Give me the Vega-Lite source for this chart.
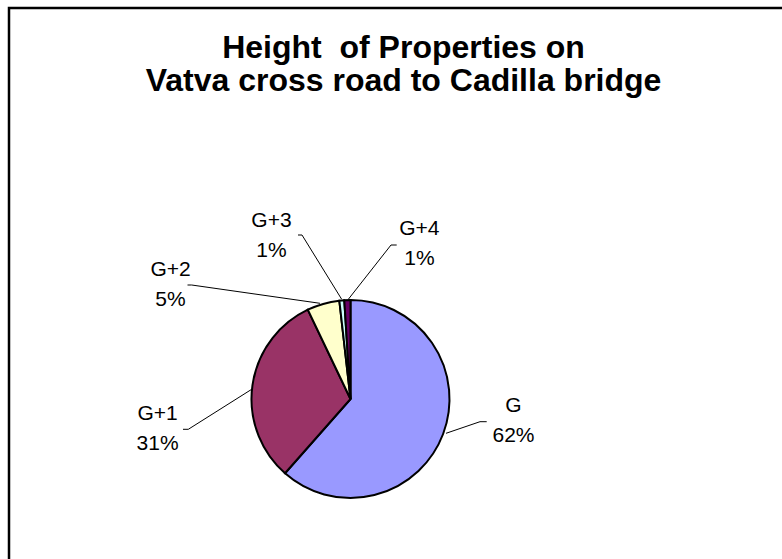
{
  "$schema": "https://vega.github.io/schema/vega-lite/v6.json",
  "autosize": "none",
  "width": 800,
  "height": 570,
  "padding": {"left": 9, "top": 8, "right": -27, "bottom": -19},
  "background": "white",
  "config": {
    "font": "Liberation Sans",
    "view": {"stroke": null}
  },
  "title": {
    "text": ["Height \u00a0of Properties on", "Vatva cross road to Cadilla bridge"],
    "font": "Liberation Sans",
    "fontSize": 32,
    "fontWeight": "bold",
    "color": "black",
    "anchor": "middle",
    "frame": "group",
    "baseline": "top",
    "offset": 0,
    "dx": -5.5,
    "dy": 92,
    "lineHeight": 33
  },
  "data": {
    "values": [
      {"cat": "G", "rank": 1, "value": 61.5, "label": "G\n62%"},
      {"cat": "G+1", "rank": 2, "value": 31.4, "label": "G+1\n31%"},
      {"cat": "G+2", "rank": 3, "value": 5.3, "label": "G+2\n5%"},
      {"cat": "G+3", "rank": 4, "value": 0.8, "label": "G+3\n1%"},
      {"cat": "G+4", "rank": 5, "value": 1.0, "label": "G+4\n1%"}
    ]
  },
  "layer": [
    {
      "data": {"values": [{"frame": 1}]},
      "mark": {"type": "rect", "fill": null, "fillOpacity": 0, "stroke": "black", "strokeWidth": 2.5, "strokeDash": [772, 1325, 2000], "strokeCap": "square"},
      "encoding": {}
    },
    {
      "data": {"values": [{"leaders": 1}]},
      "mark": {
        "type": "point",
        "shape": "M136.2,22.7L129.5,22.7L95.5,34.3M-167.5,30.3L-162.2,30.3L-98.8,-9.7M-163,-114L-158.8,-114L-30.5,-95.7M-52.5,-164L-48.5,-164L-8.8,-99.7M46.2,-154L40.5,-154L-2.2,-99.7",
        "size": 4,
        "filled": false,
        "fill": null,
        "stroke": "black",
        "strokeWidth": 1,
        "opacity": 1,
        "xOffset": -58.5,
        "yOffset": 106
      },
      "encoding": {}
    },
    {
      "mark": {"type": "arc", "outerRadius": 99, "stroke": "black", "strokeWidth": 2, "xOffset": -58.5, "yOffset": 106},
      "encoding": {
        "theta": {"field": "value", "type": "quantitative", "stack": true},
        "order": {"field": "rank", "type": "quantitative"},
        "color": {
          "field": "cat",
          "type": "nominal",
          "scale": {"domain": ["G", "G+1", "G+2", "G+3", "G+4"], "range": ["#9999FF", "#993366", "#FFFFCC", "#CCFFFF", "#660066"]},
          "legend": null
        }
      }
    },
    {
      "mark": {"type": "text", "radius": 160, "xOffset": -58.5, "yOffset": 106, "dx": 13.3, "dy": -49.6, "fontSize": 21, "font": "Liberation Sans", "lineBreak": "\n", "align": "center", "baseline": "middle", "lineHeight": 30, "color": "black"},
      "encoding": {
        "theta": {"field": "value", "type": "quantitative", "stack": true},
        "order": {"field": "rank", "type": "quantitative"},
        "detail": {"field": "cat", "type": "nominal"},
        "text": {"condition": {"test": "datum.cat === 'G'", "field": "label"}, "value": ""}
      }
    },
    {
      "mark": {"type": "text", "radius": 160, "xOffset": -58.5, "yOffset": 106, "dx": -34.4, "dy": 36.9, "fontSize": 21, "font": "Liberation Sans", "lineBreak": "\n", "align": "center", "baseline": "middle", "lineHeight": 30, "color": "black"},
      "encoding": {
        "theta": {"field": "value", "type": "quantitative", "stack": true},
        "order": {"field": "rank", "type": "quantitative"},
        "detail": {"field": "cat", "type": "nominal"},
        "text": {"condition": {"test": "datum.cat === 'G+1'", "field": "label"}, "value": ""}
      }
    },
    {
      "mark": {"type": "text", "radius": 160, "xOffset": -58.5, "yOffset": 106, "dx": -135.8, "dy": 24.8, "fontSize": 21, "font": "Liberation Sans", "lineBreak": "\n", "align": "center", "baseline": "middle", "lineHeight": 30, "color": "black"},
      "encoding": {
        "theta": {"field": "value", "type": "quantitative", "stack": true},
        "order": {"field": "rank", "type": "quantitative"},
        "detail": {"field": "cat", "type": "nominal"},
        "text": {"condition": {"test": "datum.cat === 'G+2'", "field": "label"}, "value": ""}
      }
    },
    {
      "mark": {"type": "text", "radius": 160, "xOffset": -58.5, "yOffset": 106, "dx": -65, "dy": -19, "fontSize": 21, "font": "Liberation Sans", "lineBreak": "\n", "align": "center", "baseline": "middle", "lineHeight": 30, "color": "black"},
      "encoding": {
        "theta": {"field": "value", "type": "quantitative", "stack": true},
        "order": {"field": "rank", "type": "quantitative"},
        "detail": {"field": "cat", "type": "nominal"},
        "text": {"condition": {"test": "datum.cat === 'G+3'", "field": "label"}, "value": ""}
      }
    },
    {
      "mark": {"type": "text", "radius": 160, "xOffset": -58.5, "yOffset": 106, "dx": 73.9, "dy": -9.6, "fontSize": 21, "font": "Liberation Sans", "lineBreak": "\n", "align": "center", "baseline": "middle", "lineHeight": 30, "color": "black"},
      "encoding": {
        "theta": {"field": "value", "type": "quantitative", "stack": true},
        "order": {"field": "rank", "type": "quantitative"},
        "detail": {"field": "cat", "type": "nominal"},
        "text": {"condition": {"test": "datum.cat === 'G+4'", "field": "label"}, "value": ""}
      }
    }
  ]
}
